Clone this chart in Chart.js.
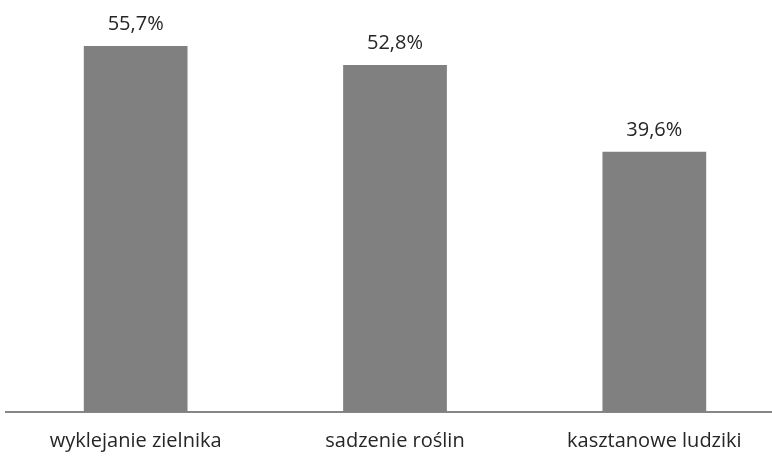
<!DOCTYPE html>
<html>
<head>
<meta charset="utf-8">
<script src="https://cdn.jsdelivr.net/npm/chart.js@4"></script>
<style>
  html, body { margin: 0; padding: 0; background: #fff; overflow: hidden; }
  #wrap { width: 784px; height: 457px; position: relative; }
</style>
</head>
<body>
<div id="wrap"><canvas id="barChart"></canvas></div>
<script>
// Dane wykresu
const categories = ['wyklejanie zielnika', 'sadzenie roślin', 'kasztanowe ludziki'];
const values = [55.7, 52.8, 39.6];
const Y_MAX = 62.7;

// etykiety wartości nad słupkami (przecinek dziesiętny)
const valueLabels = {
    id: 'valueLabels',
    afterDatasetsDraw(chart) {
        const ctx = chart.ctx;
        const meta = chart.getDatasetMeta(0);
        ctx.save();
        ctx.font = '20px "Open Sans"';
        ctx.fillStyle = '#262626';
        ctx.textAlign = 'center';
        ctx.textBaseline = 'alphabetic';
        meta.data.forEach((bar, i) => {
            const txt = values[i].toFixed(1).replace('.', ',') + '%';
            ctx.fillText(txt, bar.x, bar.y - 16);
        });
        ctx.restore();
    }
};

const ctx = document.getElementById('barChart').getContext('2d');
new Chart(ctx, {
    type: 'bar',
    data: {
        labels: categories,
        datasets: [{
            data: values,
            backgroundColor: '#808080',
            borderWidth: 0,
            categoryPercentage: 1,
            barPercentage: 0.4
        }]
    },
    options: {
        responsive: true,
        maintainAspectRatio: false,
        animation: false,
        layout: { padding: { left: 6, right: 0, top: 0, bottom: 0 } },
        plugins: { legend: { display: false }, tooltip: { enabled: false } },
        scales: {
            y: {
                display: false,
                min: 0,
                max: Y_MAX
            },
            x: {
                grid: { display: false, drawTicks: false },
                border: { display: true, color: '#868686', width: 2 },
                ticks: {
                    color: '#262626',
                    font: { family: 'Open Sans', size: 20 },
                    padding: 17
                },
                afterFit(scale) { scale.height = 45; }
            }
        }
    },
    plugins: [valueLabels]
});
</script>
</body>
</html>
